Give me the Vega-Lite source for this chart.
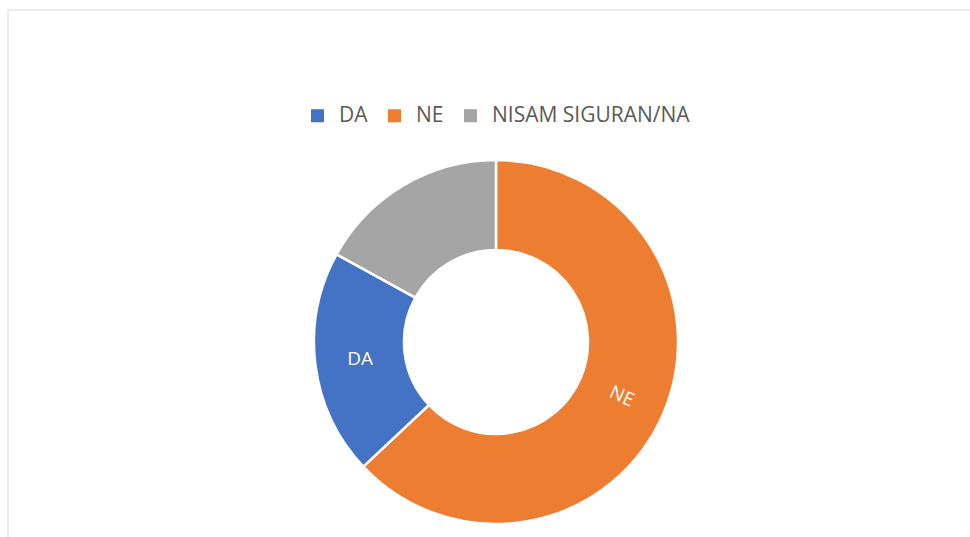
{
  "$schema": "https://vega.github.io/schema/vega-lite/v6.json",
  "width": 976,
  "height": 664,
  "padding": {"left": 8, "top": 10, "right": 0, "bottom": 0},
  "autosize": {"type": "none"},
  "background": "white",
  "config": {
    "view": {"stroke": null},
    "font": "Open Sans"
  },
  "data": {
    "values": [
      {"cat": "NE", "value": 63, "ord": 1},
      {"cat": "DA", "value": 20, "ord": 2},
      {"cat": "NISAM SIGURAN/NA", "value": 17, "ord": 3}
    ]
  },
  "layer": [
    {
      "data": {"values": [{"frame": 1}]},
      "mark": {"type": "rect", "fill": "white", "stroke": "#d9d9d9", "strokeWidth": 1}
    },
    {
      "mark": {"type": "arc", "outerRadius": 182, "innerRadius": 92, "stroke": "white", "strokeWidth": 2.5},
      "encoding": {
        "theta": {"field": "value", "type": "quantitative", "stack": true},
        "order": {"field": "ord", "type": "quantitative"},
        "color": {
          "field": "cat",
          "type": "nominal",
          "scale": {"domain": ["DA", "NE", "NISAM SIGURAN/NA"], "range": ["#4472C4", "#ED7D31", "#A5A5A5"]},
          "legend": {
            "title": null,
            "orient": "none",
            "direction": "horizontal",
            "legendX": 299,
            "legendY": 95,
            "symbolType": "square",
            "symbolSize": 170,
            "symbolStrokeWidth": 0,
            "labelFontSize": 21,
            "labelColor": "#595959",
            "labelOffset": 11,
            "columnPadding": 16,
            "labelLimit": 400,
            "labelFont": "Open Sans"
          }
        }
      }
    },
    {
      "mark": {"type": "text", "radius": 137, "color": "white", "fontSize": 19, "font": "Open Sans"},
      "encoding": {
        "theta": {"field": "value", "type": "quantitative", "stack": true},
        "order": {"field": "ord", "type": "quantitative"},
        "text": {"field": "cat", "condition": {"test": "datum.cat === 'NISAM SIGURAN/NA'", "value": ""}},
        "angle": {"condition": {"test": "datum.cat === 'NE'", "value": 24}, "value": 0}
      }
    }
  ]
}
